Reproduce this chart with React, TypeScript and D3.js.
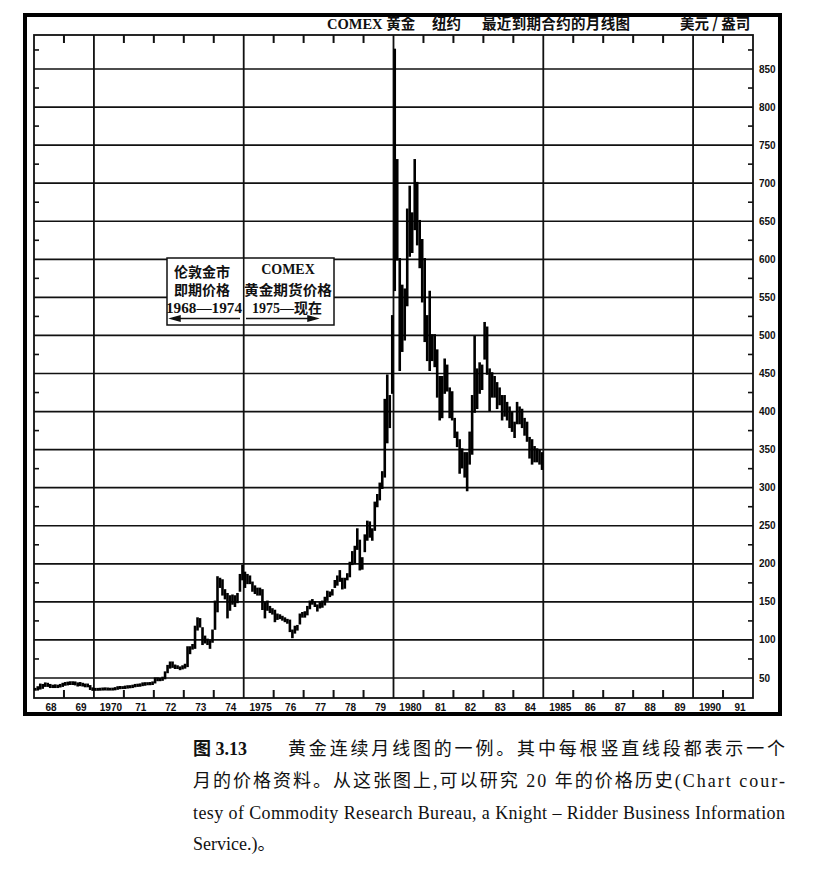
import React from "react";
import * as d3 from "d3";

const W = 816;
const H = 871;

// first month of the series is Jan 1968, one row per year (Jan..Dec)
const startYear = 1968;

const monthlyHigh: number[] = [
  35.3, 37.5, 41, 40.5, 42.5, 42, 40.5, 39.5, 40, 39.5, 40.5, 42, // 1968
  43, 43.5, 44, 44, 43.8, 42.5, 43, 42, 41, 41, 39, 36, // 1969
  35.3, 35.3, 35.5, 35.8, 36, 35.8, 35.5, 35.6, 36.3, 37.5, 37.8, 37.6, // 1970
  38.3, 38.8, 38.9, 39.5, 40.5, 40.8, 41.2, 42.5, 42.8, 42.8, 43, 43.8, // 1971
  49, 49, 48.5, 50, 57, 65.5, 70, 70, 66, 65, 63.5, 65, // 1972
  67, 90, 90, 93, 117, 128, 127, 115, 104, 100, 98, 112, // 1973
  150, 182, 180, 178, 165, 160, 157, 158, 157, 160, 185, 197, // 1974
  188, 185, 183, 175, 170, 167, 167, 165, 148, 150, 143, 140, // 1975
  138, 133, 132, 130, 128, 126, 125, 112, 117, 118, 133, 135, // 1976
  136, 143, 150, 152, 149, 145, 148, 150, 155, 163, 162, 165, // 1977
  177, 183, 190, 180, 180, 186, 201, 215, 222, 245, 230, 207, // 1978
  237, 255, 254, 245, 280, 290, 305, 320, 415, 447, 420, 525, // 1979
  875, 730, 600, 565, 560, 665, 695, 660, 730, 700, 650, 625, // 1980
  600, 525, 557, 500, 500, 480, 445, 445, 468, 460, 430, 425, // 1981
  390, 372, 362, 350, 345, 345, 372, 420, 498, 455, 463, 460, // 1982
  516, 510, 455, 450, 445, 437, 430, 420, 420, 411, 405, 398, // 1983
  385, 411, 405, 402, 390, 385, 365, 362, 353, 350, 348, 345, // 1984
];

const monthlyLow: number[] = [
  35, 35.2, 36.5, 37.5, 40, 40, 38.5, 38.5, 38.5, 38.5, 39.2, 40, // 1968
  41.5, 42, 42.5, 42.5, 42, 40.5, 41, 40.5, 39.5, 39.5, 36, 34.8, // 1969
  34.8, 34.9, 35, 35.2, 35.3, 35.2, 35.2, 35.2, 35.5, 36.2, 37, 37.2, // 1970
  37.3, 37.8, 38.2, 38.5, 39.5, 40, 40.2, 41, 41.5, 42.2, 42.2, 42.5, // 1971
  44.5, 47.5, 47.5, 48, 50, 58, 64, 65, 63.5, 63.5, 62, 63, // 1972
  64, 66, 83, 89, 90, 114, 118, 95, 97, 95, 90, 98, // 1973
  115, 138, 170, 160, 155, 130, 140, 148, 145, 150, 165, 180, // 1974
  170, 175, 175, 165, 162, 160, 160, 141, 130, 140, 137, 135, // 1975
  125, 128, 129, 127, 125, 123, 112, 104, 110, 114, 122, 131, // 1976
  131, 134, 142, 148, 145, 139, 143, 144, 147, 153, 158, 160, // 1977
  170, 173, 178, 168, 169, 180, 184, 200, 201, 220, 193, 194, // 1978
  217, 232, 236, 232, 245, 276, 285, 300, 315, 360, 380, 425, // 1979
  560, 600, 455, 480, 495, 540, 605, 610, 640, 620, 590, 545, // 1980
  493, 468, 455, 468, 460, 420, 390, 393, 425, 428, 393, 390, // 1981
  367, 355, 320, 327, 315, 297, 332, 345, 400, 405, 425, 430, // 1982
  470, 450, 402, 420, 420, 405, 410, 390, 395, 390, 380, 375, // 1983
  367, 385, 385, 380, 370, 362, 340, 332, 335, 335, 332, 325, // 1984
];

const priceTicks = [50, 100, 150, 200, 250, 300, 350, 400, 450, 500, 550, 600, 650, 700, 750, 800, 850];
const halfTicks = [75, 125, 175, 225, 275, 325, 375, 425, 475, 525, 575, 625, 675, 725, 775, 825, 875];
const yearLabels = ["68", "69", "1970", "71", "72", "73", "74", "1975", "76", "77", "78", "79",
  "1980", "81", "82", "83", "84", "1985", "86", "87", "88", "89", "1990", "91"];
const gridYears = [1970, 1975, 1980, 1985, 1990];

const headerParts = ["COMEX 黄金", "纽约", "最近到期合约的月线图"];
const unitText = "美元 / 盎司";
const leftNote = ["伦敦金市", "即期价格", "1968—1974"];
const rightNote = ["COMEX", "黄金期货价格", "1975—现在"];
const captionLines = [
  "月的价格资料。从这张图上,可以研究 20 年的价格历史(Chart cour-",
  "tesy of Commodity Research Bureau, a Knight – Ridder Business Information",
  "Service.)。",
];

const SERIF = "'Liberation Serif', 'Noto Sans CJK SC', serif";
const SANS = "'Liberation Sans', Arial, sans-serif";
const CJK = "'Noto Sans CJK SC', sans-serif";

const App: React.FC = () => {
  const plot = { left: 34, right: 753, top: 35, bottom: 698 };
  const x = d3.scaleLinear().domain([startYear, 1992]).range([plot.left, plot.right]);
  const y = d3.scaleLinear().domain([50, 850]).range([678, 69]);

  const bars = monthlyHigh.map((hi, i) => ({
    t: startYear + (i + 0.5) / 12,
    hi,
    lo: monthlyLow[i],
  }));

  const tickYears = d3.range(startYear + 1, 1992).filter((yr) => !gridYears.includes(yr));

  return (
    <svg width={W} height={H} style={{ position: "absolute", left: 0, top: 0, background: "#fff" }}>
      <rect x={0} y={0} width={W} height={H} fill="#fff" />

      {/* outer frame */}
      <rect x={25} y={15} width={755} height={699} fill="none" stroke="#000" strokeWidth={4} />

      {/* header */}
      <g fontFamily={SERIF} fontWeight={700} fontSize={14.5} fill="#111">
        <text x={327} y={29}>{headerParts[0]}</text>
        <text x={432} y={29}>{headerParts[1]}</text>
        <text x={482} y={29} textLength={148} lengthAdjust="spacing">{headerParts[2]}</text>
        <text x={680} y={29} fontFamily={CJK}>{unitText}</text>
      </g>

      {/* horizontal grid */}
      {priceTicks.map((v) => (
        <line key={"h" + v} x1={plot.left} x2={plot.right} y1={y(v)} y2={y(v)} stroke="#111" strokeWidth={1.7} />
      ))}
      {/* vertical grid */}
      {gridYears.map((yr) => (
        <line key={"v" + yr} x1={x(yr)} x2={x(yr)} y1={plot.top} y2={plot.bottom} stroke="#111" strokeWidth={1.8} />
      ))}

      {/* plot frame */}
      <rect x={plot.left} y={plot.top} width={plot.right - plot.left} height={plot.bottom - plot.top}
        fill="none" stroke="#111" strokeWidth={1.8} />

      {/* year ticks top & bottom */}
      {tickYears.map((yr) => (
        <g key={"t" + yr} stroke="#111" strokeWidth={2}>
          <line x1={x(yr)} x2={x(yr)} y1={plot.top} y2={plot.top + 8} />
          <line x1={x(yr)} x2={x(yr)} y1={plot.bottom} y2={plot.bottom - 8} />
        </g>
      ))}

      {/* half-step ticks on both sides */}
      {halfTicks.map((v) => (
        <g key={"m" + v} stroke="#111" strokeWidth={1.6}>
          <line x1={plot.left} x2={plot.left + 5} y1={y(v)} y2={y(v)} />
          <line x1={plot.right - 5} x2={plot.right} y1={y(v)} y2={y(v)} />
        </g>
      ))}

      {/* price labels */}
      <g fontFamily={SANS} fontWeight={700} fontSize={10} fill="#111">
        {priceTicks.map((v) => (
          <text key={"pl" + v} x={plot.right + 6} y={y(v)} dy="0.35em">{v}</text>
        ))}
      </g>

      {/* year labels */}
      <g fontFamily={SANS} fontWeight={700} fontSize={10} fill="#111" textAnchor="middle">
        {yearLabels.map((lab, i) => (
          <text key={"yl" + i} x={x(startYear + i + 0.5) + 2} y={710.5}>{lab}</text>
        ))}
      </g>

      {/* monthly bars */}
      <g stroke="#000" strokeWidth={2.6} strokeLinecap="square">
        {bars.map((b, i) => (
          <line key={"b" + i} x1={x(b.t)} x2={x(b.t)} y1={y(b.hi)} y2={y(b.lo)} />
        ))}
      </g>

      {/* annotation box */}
      <rect x={167} y={258} width={167} height={67} fill="#fff" stroke="#111" strokeWidth={1.5} />
      <line x1={x(1975)} x2={x(1975)} y1={258} y2={325} stroke="#111" strokeWidth={1.6} />
      <g fontFamily={SERIF} fontWeight={700} fontSize={14} fill="#111" textAnchor="middle">
        <text x={202} y={277}>{leftNote[0]}</text>
        <text x={202} y={295}>{leftNote[1]}</text>
        <text x={204} y={313} textLength={76} lengthAdjust="spacingAndGlyphs">{leftNote[2]}</text>
        <text x={288} y={274}>{rightNote[0]}</text>
        <text x={288} y={295} textLength={88} lengthAdjust="spacingAndGlyphs">{rightNote[1]}</text>
        <text x={287} y={313}>{rightNote[2]}</text>
      </g>
      <g stroke="#111" strokeWidth={1.5} fill="#111">
        <line x1={178} x2={240} y1={318.5} y2={318.5} />
        <path d="M171,318.5 L180,316 L180,321 Z" />
        <line x1={246} x2={309} y1={318.5} y2={318.5} />
        <path d="M317,318.5 L308,316 L308,321 Z" />
      </g>

      {/* caption */}
      <g fontFamily={SERIF} fontSize={18} fill="#111">
        <text x={193} y={755} fontWeight={700}>图 3.13</text>
        <text x={288} y={755} textLength={497} lengthAdjust="spacing">黄金连续月线图的一例。其中每根竖直线段都表示一个</text>
        <text x={193} y={787} textLength={592} lengthAdjust="spacing">{captionLines[0]}</text>
        <text x={193} y={819} textLength={592} lengthAdjust="spacing">{captionLines[1]}</text>
        <text x={193} y={850}>{captionLines[2]}</text>
      </g>
    </svg>
  );
};

export default App;
